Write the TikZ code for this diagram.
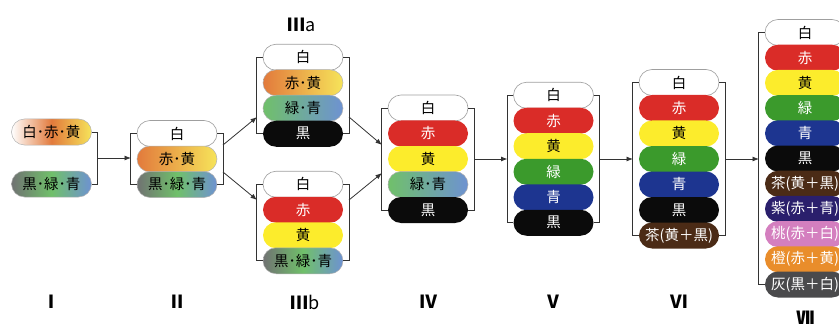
\documentclass[tikz,border=0pt]{standalone}
\usepackage{fontspec}
\setmainfont{Noto Sans CJK JP}
\usepackage{xcolor}
\usepackage{tikz}
\usetikzlibrary{calc,shapes.misc,arrows.meta}
\definecolor{pillred}{HTML}{DA2C28}
\definecolor{pillyellow}{HTML}{FCEC2C}
\definecolor{pillgreen}{HTML}{3B9A2C}
\definecolor{pillblue}{HTML}{1D3590}
\definecolor{pillblack}{HTML}{0B0B0B}
\definecolor{pillbrown}{HTML}{4B2B16}
\definecolor{pillpurple}{HTML}{2A1F6C}
\definecolor{pillpink}{HTML}{D47FBF}
\definecolor{pillorange}{HTML}{E98D2B}
\definecolor{pillgray}{HTML}{4A4A4C}
\definecolor{mixorange}{HTML}{E27A3C}
\definecolor{mixyellow}{HTML}{F6E45A}
\definecolor{mixgreen}{HTML}{70C06A}
\definecolor{mixblue}{HTML}{6E92D2}
\definecolor{mixgray}{HTML}{707272}
\definecolor{linegray}{HTML}{333333}
\tikzset{
  pill/.style={rounded rectangle, minimum width=80pt, minimum height=26pt, inner sep=0pt,
    font=\fontsize{14.5}{14.5}\selectfont},
  whitepill/.style={pill, fill=white, draw=gray!75, line width=0.6pt, text=black},
  redpill/.style={pill, fill=pillred, text=white},
  yellowpill/.style={pill, fill=pillyellow, text=black},
  greenpill/.style={pill, fill=pillgreen, text=white},
  bluepill/.style={pill, fill=pillblue, text=white},
  blackpill/.style={pill, fill=pillblack, text=white},
  brownpill/.style={pill, fill=pillbrown, text=white},
  purplepill/.style={pill, fill=pillpurple, text=white},
  pinkpill/.style={pill, fill=pillpink, text=white},
  orangepill/.style={pill, fill=pillorange, text=white},
  graypill/.style={pill, fill=pillgray, text=white},
  wrypill/.style={pill, draw=gray!60, line width=0.5pt, left color=white, right color=mixyellow, middle color=mixorange},
  kgbpill/.style={pill, draw=gray!60, line width=0.5pt, left color=mixgray, right color=mixblue, middle color=mixgreen},
  rypill/.style={pill, draw=gray!60, line width=0.5pt, left color=mixorange, right color=mixyellow},
  gbpill/.style={pill, draw=gray!60, line width=0.5pt, left color=mixgreen, right color=mixblue},
  bracket/.style={draw=linegray, line width=0.8pt},
  flow/.style={bracket, -{Latex[length=6.5pt,width=5pt]}},
  stage/.style={font=\fontsize{18}{18}\selectfont\bfseries},
}

\begin{document}
\begin{tikzpicture}[x=1pt,y=-1pt]
  \useasboundingbox (0,0) rectangle (839,329);
  % I
  \node[wrypill] (i1) at (51.5,132) {白･赤･黄};
  \node[kgbpill] (i2) at (51.5,184) {黒･緑･青};
  \draw[bracket] (i1.east) -- ++(6,0) |- (i2.east);
  % II
  \foreach \sty/\txt [count=\k] in {whitepill/白, rypill/赤･黄, kgbpill/黒･緑･青}
    \node[\sty] (ii\k) at (177,{159+25.5*(\k-2)}) {\txt};
  % IIIa, IIIb
  \foreach \sty/\txt [count=\k] in {whitepill/白, rypill/赤･黄, gbpill/緑･青, blackpill/黒}
    \node[\sty] (iiia\k) at (303,{95.5+25.5*(\k-2.5)}) {\txt};
  \foreach \sty/\txt [count=\k] in {whitepill/白, redpill/赤, yellowpill/黄, kgbpill/黒･緑･青}
    \node[\sty] (iiib\k) at (303,{222.5+25.5*(\k-2.5)}) {\txt};
  % IV
  \foreach \sty/\txt [count=\k] in {whitepill/白, redpill/赤, yellowpill/黄, gbpill/緑･青, blackpill/黒}
    \node[\sty] (iv\k) at (428,{159+25.5*(\k-3)}) {\txt};
  % V
  \foreach \sty/\txt [count=\k] in {whitepill/白, redpill/赤, yellowpill/黄, greenpill/緑, bluepill/青, blackpill/黒}
    \node[\sty] (v\k) at (553.5,{159+25.5*(\k-3.5)}) {\txt};
  % VI
  \foreach \sty/\txt [count=\k] in {whitepill/白, redpill/赤, yellowpill/黄, greenpill/緑, bluepill/青,
      blackpill/黒, brownpill/茶(黄＋黒)}
    \node[\sty] (vi\k) at (679,{159+25.5*(\k-4)}) {\txt};
  % VII
  \foreach \sty/\txt [count=\k] in {whitepill/白, redpill/赤, yellowpill/黄, greenpill/緑, bluepill/青,
      blackpill/黒, brownpill/茶(黄＋黒), purplepill/紫(赤＋青), pinkpill/桃(赤＋白),
      orangepill/橙(赤＋黄), graypill/灰(黒＋白)}
    \node[\sty] (vii\k) at (805,{158.5+25.2*(\k-6)}) {\txt};
  % brackets
  \foreach \st/\n in {ii/3, iiia/4, iiib/4, iv/5, v/6, vi/7} {
    \draw[bracket] (\st1.west) -- ++(-6,0) |- (\st\n.west);
    \draw[bracket] (\st1.east) -- ++(6,0) |- (\st\n.east);
  }
  \draw[bracket] (vii1.west) -- ++(-6,0) |- (vii11.west);
  % arrows
  \coordinate (iR) at (97.5,158);
  \coordinate (iiL) at (131,158);
  \coordinate (iiRa) at (223,145);
  \coordinate (iiRb) at (223,172);
  \coordinate (iiiaL) at (257,117);
  \coordinate (iiibL) at (257,200);
  \coordinate (iiiaR) at (349,117);
  \coordinate (iiibR) at (349,200);
  \coordinate (ivLa) at (382,145);
  \coordinate (ivLb) at (382,173);
  \coordinate (ivR) at (474,159);
  \coordinate (vL) at (507.5,159);
  \coordinate (vR) at (599.5,159);
  \coordinate (viL) at (633,159);
  \coordinate (viR) at (725,159);
  \coordinate (viiL) at (759,159);
  \draw[flow] (iR) -- (iiL);
  \draw[flow] (iiRa) -- (iiiaL);
  \draw[flow] (iiRb) -- (iiibL);
  \draw[flow] (iiiaR) -- (ivLa);
  \draw[flow] (iiibR) -- (ivLb);
  \draw[flow] (ivR) -- (vL);
  \draw[flow] (vR) -- (viL);
  \draw[flow] (viR) -- (viiL);
  % stage labels
  \node[stage] (labIIIa) at (302,25) {Ⅲ\mdseries a};
  \node[stage] (labI) at (51.5,302) {Ⅰ};
  \node[stage] (labII) at (177,302) {Ⅱ};
  \node[stage] (labIIIb) at (305,302) {Ⅲ\mdseries b};
  \node[stage] (labIV) at (428,302) {Ⅳ};
  \node[stage] (labV) at (553.5,302) {Ⅴ};
  \node[stage] (labVI) at (679,302) {Ⅵ};
  \node[stage] (labVII) at (805,318) {Ⅶ};
\end{tikzpicture}
\end{document}
